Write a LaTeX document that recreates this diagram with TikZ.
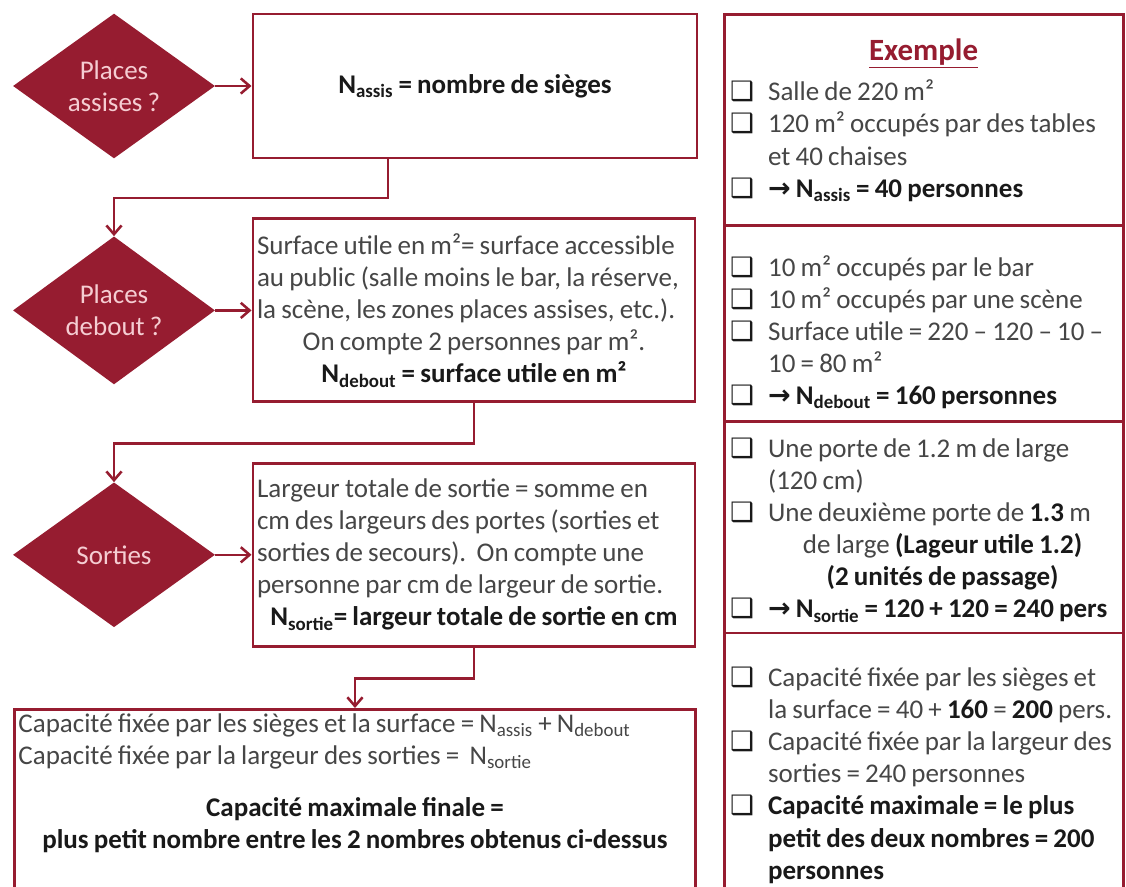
\documentclass[tikz,border=0pt]{standalone}
\usepackage{fontspec}
\setmainfont{Carlito}[WordSpace=0.85]
\newfontfamily\symfont{DejaVu Sans}
\usepackage{tikz}
\usetikzlibrary{arrows.meta,positioning,shapes.geometric}
\definecolor{winered}{RGB}{150,28,48}
\definecolor{rosetext}{RGB}{245,205,210}
\definecolor{greytext}{RGB}{70,70,70}
\definecolor{darktext}{RGB}{25,25,25}
\newcommand{\bodysize}{\fontsize{19.2}{22.8}\selectfont}
\newcommand{\chk}{{\symfont\fontsize{19}{19}\selectfont\color{darktext}❑}}
\newcommand{\rarr}{{\symfont\bfseries →}}
\newlength{\hangw}\setlength{\hangw}{0.95cm}
\newcommand{\cb}[1]{\par\hangindent=\hangw\hangafter=1\noindent\makebox[\hangw][l]{\chk}#1}
\newcommand{\cbc}[1]{\par\noindent\hspace*{\hangw}\makebox[\dimexpr\linewidth-\hangw\relax][c]{#1}}
\tikzset{
  base/.style={font=\bodysize, text=greytext, inner sep=0pt},
  dec/.style={base, diamond, fill=winered, draw=none, text=rosetext, minimum width=5.05cm, minimum height=3.62cm, align=center},
  box/.style={base, rectangle, draw=winered, line width=2.1pt, fill=white, inner xsep=0.1cm, inner ysep=0.1cm},
  expl/.style={box, minimum width=9.975cm, text width=9.675cm, inner xsep=0.15cm, align=flush left},
  arr/.style={-{Straight Barb[length=2.2mm,width=3.8mm]}, line width=1.8pt, draw=winered},
  strong/.style={font=\bodysize\bfseries, text=darktext},
}

\begin{document}
\begin{tikzpicture}
  \useasboundingbox (0,0) rectangle (28.15,-22.175);
  % questions
  \node[dec] (d1) at (2.85,-2.15)  {Places\\assises ?};
  \node[dec] (d2) at (2.85,-7.76)  {Places\\debout ?};
  \node[dec] (d3) at (2.85,-13.87) {Sorties};
  % rules
  \node[box,strong,minimum width=11.1cm,minimum height=3.6cm] (seats) at (11.875,-2.15) {N\textsubscript{assis} = nombre de sièges};
  \node[box,minimum width=11.05cm,minimum height=4.575cm,text width=10.85cm,align=flush left] (surf) at (11.85,-7.76)
    {Surface utile en m²= surface accessible\\au public (salle moins le bar, la réserve,\\la scène, les zones places assises, etc.).\par
     \centerline{On compte 2 personnes par m².}
     \centerline{\bfseries\color{darktext}N\textsubscript{debout} = surface utile en m²}};
  \node[box,minimum width=11.05cm,minimum height=4.575cm,text width=10.85cm,align=flush left] (exits) at (11.85,-13.87)
    {Largeur totale de sortie = somme en\\cm des largeurs des portes (sorties et\\sorties de secours).\ \ On compte une\\personne par cm de largeur de sortie.\par
     \centerline{\bfseries\color{darktext}N\textsubscript{sortie}= largeur totale de sortie en cm}};
  \node[box,anchor=north west,minimum width=17.025cm,text width=16.825cm,align=flush left] (cap) at (0.325,-17.7)
    {Capacité fixée par les sièges et la surface = N\textsubscript{assis} + N\textsubscript{debout}\\
     Capacité fixée par la largeur des sorties = \ N\textsubscript{sortie}\par\vspace*{0.5cm}
     \centerline{\bfseries\color{darktext}Capacité maximale finale =}
     \centerline{\bfseries\color{darktext}plus petit nombre entre les 2 nombres obtenus ci-dessus}\par\vspace*{1.6cm}};
  % example column
  \node[expl,minimum height=5.275cm] (ex1) at (23.09,-3.01)
    {{\centering\fontsize{22}{26}\selectfont\bfseries\color{winered}\underline{Exemple}\par}\vspace*{0.2cm}
     \cb{Salle de 220 m²}
     \cb{120 m² occupés par des tables\newline et 40 chaises}
     \cb{\bfseries\color{darktext}\rarr\ N\textsubscript{assis} = 40 personnes}\par};
  \node[expl,minimum height=5.025cm] (ex2) at (23.09,-8.16)
    {\cb{10 m² occupés par le bar}
     \cb{10 m² occupés par une scène}
     \cb{Surface utile = 220 – 120 – 10 –\newline 10 = 80 m²}
     \cb{\bfseries\color{darktext}\rarr\ N\textsubscript{debout} =\ 160 personnes}\par};
  \node[expl,minimum height=5.15cm] (ex3) at (23.09,-13.25)
    {\cb{Une porte de 1.2 m de large\newline (120 cm)}
     \cb{Une deuxième porte de \textbf{\color{darktext}1.3} m}
     \cbc{de large \textbf{\color{darktext}(Lageur utile 1.2)}}
     \cbc{\textbf{\color{darktext}(2 unités de passage)}}
     \cb{\bfseries\color{darktext}\rarr\ N\textsubscript{sortie} = 120 + 120 = 240 pers}\par\vspace*{0.3cm}};
  \node[expl,minimum height=6.8cm] (ex4) at (23.09,-19.225)
    {\cb{Capacité fixée par les sièges et\newline la surface = 40 + \textbf{\color{darktext}160} = \textbf{\color{darktext}200} pers.}
     \cb{Capacité fixée par la largeur des\newline sorties = 240 personnes}
     \cb{\bfseries\color{darktext}Capacité maximale = le plus\newline petit des deux nombres = 200\newline personnes}\par};
  % connectors
  \coordinate (j1) at (9.7,-4.95);
  \draw[arr] (d1) -- (seats);
  \draw[arr] (seats.south -| j1) -- (j1) -| (d2.north);
  \draw[arr] (d2) -- (surf);
  \draw[arr] (surf.south) -- ++(0,-1.0) -| (d3.north);
  \draw[arr] (d3) -- (exits);
  \draw[arr] (exits.south) -- ++(0,-0.77) -| (cap.north);
\end{tikzpicture}
\end{document}
